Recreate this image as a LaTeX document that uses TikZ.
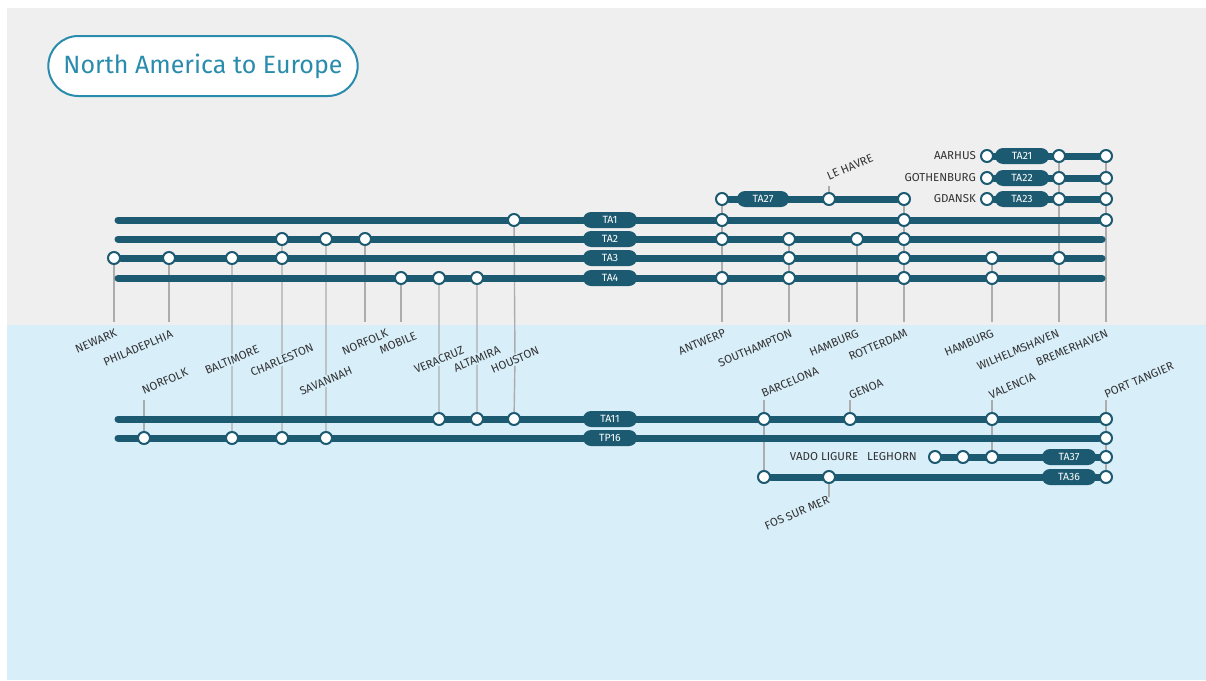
\documentclass[tikz,border=0pt]{standalone}
\usepackage{fontspec}
\setmainfont{Fira Sans}
\usetikzlibrary{shapes.misc}

\definecolor{routeteal}{RGB}{27,90,112}
\definecolor{titleblue}{RGB}{42,140,172}
\definecolor{landgrey}{RGB}{239,239,239}
\definecolor{seablue}{RGB}{216,238,249}
\definecolor{leadgrey}{RGB}{172,172,172}
\definecolor{labelgrey}{RGB}{50,50,50}

\pgfdeclarelayer{back}
\pgfsetlayers{back,main}

\tikzset{
	route/.style={line width=7pt, routeteal, line cap=round},
	stop/.style={circle, draw=routeteal, fill=white, line width=2pt, minimum size=12pt, inner sep=0pt},
	pill/.style={rounded rectangle, fill=routeteal, text=white, minimum width=54pt, minimum height=16pt, inner sep=0pt, font=\fontsize{10.5}{11}\selectfont},
	leader/.style={leadgrey, line width=1.4pt},
	port/.style={text=labelgrey, inner sep=1pt, rotate=23, font=\fontsize{11.5}{13}\selectfont},
	portflat/.style={text=labelgrey, inner sep=1pt, font=\fontsize{11.5}{13}\selectfont}
}

\begin{document}
\begin{tikzpicture}[x=1pt, y=-1pt]
	\useasboundingbox (0,0) rectangle (1206,680);

	% title
	\node[rounded rectangle, draw=titleblue, line width=2pt, fill=white, minimum width=316pt, minimum height=60pt, text=titleblue, font=\fontsize{25}{30}\selectfont] (title) at (203,66) {North America to Europe};

	% stops, row by row
	\foreach \x in {514,722,904,1106} \node[stop] (ta1-\x) at (\x,220) {};
	\foreach \x in {282,326,365,722,789,857,904} \node[stop] (ta2-\x) at (\x,239) {};
	\foreach \x in {114,169,232,282,789,904,992,1059} \node[stop] (ta3-\x) at (\x,258) {};
	\foreach \x in {401,439,477,722,789,904,992} \node[stop] (ta4-\x) at (\x,278) {};
	\foreach \x in {722,829,904} \node[stop] (ta27-\x) at (\x,199) {};
	\foreach \x in {987,1059,1106} {
		\node[stop] (ta21-\x) at (\x,156) {};
		\node[stop] (ta22-\x) at (\x,178) {};
		\node[stop] (ta23-\x) at (\x,199) {};
	}
	\foreach \x in {439,477,514,764,850,992,1106} \node[stop] (ta11-\x) at (\x,419) {};
	\foreach \x in {144,232,282,326,1106} \node[stop] (tp16-\x) at (\x,438) {};
	\foreach \x in {935,963,992,1106} \node[stop] (ta37-\x) at (\x,457) {};
	\foreach \x in {764,829,1106} \node[stop] (ta36-\x) at (\x,477) {};

	% open line ends
	\coordinate (ta1-w) at (118,220);
	\coordinate (ta2-w) at (118,239);
	\coordinate (ta2-e) at (1102,239);
	\coordinate (ta3-e) at (1102,258);
	\coordinate (ta4-w) at (118,278);
	\coordinate (ta4-e) at (1102,278);
	\coordinate (ta11-w) at (118,419);
	\coordinate (tp16-w) at (118,438);

	% route tags
	\node[pill] (tag-ta1) at (610,220) {TA1};
	\node[pill] (tag-ta2) at (610,239) {TA2};
	\node[pill] (tag-ta3) at (610,258) {TA3};
	\node[pill] (tag-ta4) at (610,278) {TA4};
	\node[pill, minimum width=52pt] (tag-ta27) at (763,199) {TA27};
	\node[pill] (tag-ta21) at (1022,156) {TA21};
	\node[pill] (tag-ta22) at (1022,178) {TA22};
	\node[pill] (tag-ta23) at (1022,199) {TA23};
	\node[pill] (tag-ta11) at (610,419) {TA11};
	\node[pill] (tag-tp16) at (610,438) {TP16};
	\node[pill] (tag-ta37) at (1069,457) {TA37};
	\node[pill] (tag-ta36) at (1069,477) {TA36};

	% port names
	\node[portflat, anchor=east] (l-aarhus) at (977,156) {AARHUS};
	\node[portflat, anchor=east] (l-gothenburg) at (977,178) {GOTHENBURG};
	\node[portflat, anchor=east] (l-gdansk) at (977,199) {GDANSK};
	\node[portflat] (l-vado) at (824,457) {VADO LIGURE};
	\node[portflat] (l-leghorn) at (892,457) {LEGHORN};
	\node[port] (l-lehavre) at (850,167) {LE HAVRE};
	\node[port] (l-newark) at (96,341) {NEWARK};
	\node[port] (l-philadelphia) at (138,348) {PHILADEPLHIA};
	\node[port] (l-baltimore) at (232,360) {BALTIMORE};
	\node[port] (l-charleston) at (282,360) {CHARLESTON};
	\node[port] (l-savannah) at (326,381) {SAVANNAH};
	\node[port] (l-norfolk) at (365,342) {NORFOLK};
	\node[port] (l-mobile) at (398,343) {MOBILE};
	\node[port] (l-veracruz) at (439,360) {VERACRUZ};
	\node[port] (l-altamira) at (477,359) {ALTAMIRA};
	\node[port] (l-houston) at (515,360) {HOUSTON};
	\node[port] (l-norfolk2) at (165,381) {NORFOLK};
	\node[port] (l-antwerp) at (702,342) {ANTWERP};
	\node[port] (l-southampton) at (755,348) {SOUTHAMPTON};
	\node[port] (l-hamburg) at (834,343) {HAMBURG};
	\node[port] (l-rotterdam) at (878,345) {ROTTERDAM};
	\node[port] (l-hamburg2) at (969,343) {HAMBURG};
	\node[port] (l-wilhelmshaven) at (1018,350) {WILHELMSHAVEN};
	\node[port] (l-bremerhaven) at (1072,348) {BREMERHAVEN};
	\node[port] (l-barcelona) at (790,382) {BARCELONA};
	\node[port] (l-genoa) at (866,389) {GENOA};
	\node[port] (l-valencia) at (1012,386) {VALENCIA};
	\node[port] (l-tangier) at (1139,380) {PORT TANGIER};
	\node[port] (l-fos) at (797,513) {FOS SUR MER};

	% leader ends
	\foreach \x in {114,169,365,401,722,789,857,904,992,1059,1106} \coordinate (cut-\x) at (\x,322);
	\foreach \x in {144,764,850,992,1106} \coordinate (foot-\x) at (\x,400);
	\coordinate (foot-lehavre) at (829,186);
	\coordinate (foot-fos) at (829,497);

	\begin{pgfonlayer}{back}
		% land and sea
		\fill[landgrey] (7,8) rectangle (1206,325);
		\fill[seablue] (7,325) rectangle (1206,680);

		% leaders
		\foreach \n/\x in {ta3/114,ta3/169,ta2/365,ta4/401,ta27/722,ta2/789,ta2/857,ta27/904,ta3/992,ta21/1059,ta21/1106}
			\draw[leader] (\n-\x) -- (cut-\x);
		\foreach \n/\x in {tp16/144,ta36/764,ta11/850,ta37/992,ta36/1106}
			\draw[leader] (\n-\x) -- (foot-\x);
		\draw[leader] (ta27-829) -- (foot-lehavre);
		\draw[leader] (ta36-829) -- (foot-fos);
		\draw[leader] (ta3-232) -- (l-baltimore) (l-baltimore) -- (tp16-232);
		\draw[leader] (ta2-282) -- (l-charleston) (l-charleston) -- (tp16-282);
		\draw[leader] (ta2-326) -- (l-savannah) (l-savannah) -- (tp16-326);
		\draw[leader] (ta4-439) -- (l-veracruz) (l-veracruz) -- (ta11-439);
		\draw[leader] (ta4-477) -- (l-altamira) (l-altamira) -- (ta11-477);
		\draw[leader] (ta1-514) -- (l-houston) (l-houston) -- (ta11-514);

		% routes
		\draw[route] (ta1-w) -- (ta1-1106);
		\draw[route] (ta2-w) -- (ta2-e);
		\draw[route] (ta3-114) -- (ta3-e);
		\draw[route] (ta4-w) -- (ta4-e);
		\draw[route] (ta27-722) -- (ta27-904);
		\draw[route] (ta21-987) -- (ta21-1106);
		\draw[route] (ta22-987) -- (ta22-1106);
		\draw[route] (ta23-987) -- (ta23-1106);
		\draw[route] (ta11-w) -- (ta11-1106);
		\draw[route] (tp16-w) -- (tp16-1106);
		\draw[route] (ta37-935) -- (ta37-1106);
		\draw[route] (ta36-764) -- (ta36-1106);
	\end{pgfonlayer}
\end{tikzpicture}
\end{document}
